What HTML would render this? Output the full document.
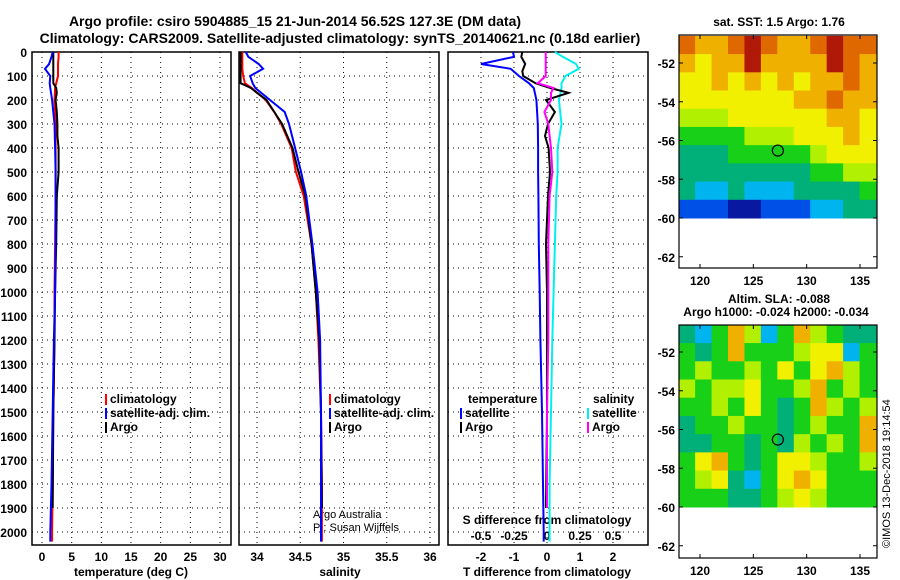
<!DOCTYPE html>
<html><head><meta charset="utf-8"><style>
html,body{margin:0;padding:0;background:#fff;}
svg{display:block;font-family:"Liberation Sans",sans-serif;font-weight:bold;}
</style></head><body>
<svg id="c" width="900" height="580" viewBox="0 0 900 580" xmlns="http://www.w3.org/2000/svg">
<text x="295" y="26" font-size="14" text-anchor="middle">Argo profile: csiro 5904885_15 21-Jun-2014 56.52S 127.3E (DM data)</text>
<text x="340" y="43" font-size="14" text-anchor="middle">Climatology: CARS2009. Satellite-adjusted climatology: synTS_20140621.nc (0.18d earlier)</text>
<text x="779" y="26" font-size="12" text-anchor="middle">sat. SST: 1.5 Argo: 1.76</text>
<text x="779" y="303" font-size="12" text-anchor="middle">Altim. SLA: -0.088</text>
<text x="776" y="316" font-size="12" text-anchor="middle">Argo h1000: -0.024 h2000: -0.034</text>
<text transform="translate(890,548) rotate(-90)" font-size="11" font-weight="normal">©IMOS 13-Dec-2018 19:14:54</text>
<g id="g"></g>
</svg>
<script>
// ---- data ----
const depths = [0,20,50,70,100,130,150,200,250,300,400,500,600,800,1000,1200,1500,1800,2000,2040];
const tempClim = [2.8,2.8,2.7,2.7,2.7,2.4,2.2,2.1,2.2,2.3,2.3,2.3,2.3,2.2,2.1,2.1,1.9,1.8,1.7,1.7];
const tempSat  = [1.8,1.6,1.2,0.5,1.4,1.3,1.4,1.7,1.9,2.1,2.2,2.3,2.3,2.3,2.2,2.0,1.8,1.6,1.4,1.4];
const argoDepths = [0,20,50,80,100,130,150,170,200,250,300,350,400,500,600,800,1000,1200,1500,1900];
const tempArgo = [1.9,1.9,1.9,1.9,1.9,1.9,2.4,2.5,2.3,2.5,2.6,2.6,2.8,2.8,2.5,2.4,2.2,2.1,1.9,1.8];
const salClim = [33.83,33.83,33.83,33.83,33.84,33.86,33.94,34.1,34.2,34.28,34.4,34.45,34.54,34.63,34.68,34.71,34.74,34.75,34.75,34.75];
const salSat  = [33.87,33.9,34.02,34.07,33.92,33.95,33.98,34.15,34.32,34.37,34.44,34.51,34.57,34.64,34.7,34.73,34.74,34.74,34.74,34.74];
const salArgo = [33.81,33.81,33.81,33.81,33.81,33.81,33.93,34.0,34.11,34.2,34.29,34.35,34.41,34.48,34.56,34.63,34.68,34.72,34.74,34.75];
const dTSat  = [-1.03,-1.0,-2.0,-1.1,-0.85,-0.55,-0.4,-0.32,-0.3,-0.28,-0.27,-0.27,-0.26,-0.25,-0.22,-0.2,-0.15,-0.12,-0.1,-0.1];
const dTArgo = [-0.75,-0.78,-0.66,-0.75,-0.72,-0.35,0.1,0.65,-0.03,0.24,0.03,-0.06,0.05,0.09,0.03,-0.03,0.0,0.0,0.0,-0.03];
const dSSat  = [0.06,0.12,0.22,0.24,0.14,0.11,0.11,0.09,0.10,0.11,0.08,0.08,0.07,0.06,0.05,0.04,0.03,0.02,0.02,0.02];
const dSArgo = [-0.01,-0.01,-0.01,-0.01,-0.01,-0.07,0.05,0.03,0.03,-0.02,0.01,0.02,0.03,0.04,0.02,0.01,0.01,0.01,0.0,0.0];
const depthTicks = [0,100,200,300,400,500,600,700,800,900,1000,1100,1200,1300,1400,1500,1600,1700,1800,1900,2000];
const tempTicks = [0,5,10,15,20,25,30];
const salTicks = [34,34.5,35,35.5,36];
const salTickLabels = ["34","34.5","35","35.5","36"];
const dTTicks = [-2,-1,0,1,2];
const dSTicks = [-0.5,-0.25,0,0.25,0.5];
const dSTickLabels = ["-0.5","-0.25","0","0.25","0.5"];
const latTicks = [-52,-54,-56,-58,-60,-62];
const lonTicks = [120,125,130,135];
const argoLon = 127.3, argoLat = -56.52;
// map grids: 12 lon cols x 10 lat rows (-50.6 .. -60), colour index 0..9
const sstGrid = [
[8,7,7,8,9,8,7,7,8,9,8,8],
[7,6,7,7,9,7,7,7,7,9,8,7],
[6,6,7,6,7,6,7,6,7,7,8,7],
[6,6,6,6,6,6,6,7,7,8,7,7],
[5,5,5,6,6,6,6,6,6,7,7,6],
[4,4,4,4,5,5,5,6,6,6,7,6],
[3,3,3,4,4,4,4,4,5,6,6,6],
[3,3,3,3,3,3,3,3,4,4,5,5],
[3,2,2,3,2,2,2,3,3,3,3,4],
[1,1,1,0,0,1,1,1,2,2,3,3]];
const slaGrid = [
[3,2,4,7,5,2,4,7,5,4,3,3],
[4,3,4,7,4,4,4,5,6,6,2,4],
[4,5,4,4,5,4,6,4,6,7,5,4],
[5,4,5,5,6,4,4,5,7,4,5,4],
[4,4,5,4,6,4,3,4,7,5,4,5],
[3,4,4,5,4,4,3,4,5,4,4,7],
[3,3,4,4,3,4,3,5,4,5,4,7],
[4,6,7,4,3,4,6,6,5,4,4,5],
[4,5,6,3,2,4,6,7,6,4,4,4],
[4,4,4,3,3,4,5,6,5,4,4,4]];
const palette = ["#0818a0","#0050e8","#00b4f0","#00b078","#18d018","#b0f000","#f0f000","#f0b000","#e06800","#b01808"];

// ---- drawing ----
const NS="http://www.w3.org/2000/svg";
const G=document.getElementById('g');
function el(tag,attrs,parent){const e=document.createElementNS(NS,tag);for(const k in attrs)e.setAttribute(k,attrs[k]);(parent||G).appendChild(e);return e;}
const top0=52, pxPer100=24;
const yD=d=>top0+d*pxPer100/100;
const bottom=545;
function lin(d0,d1,r0,r1){return v=>r0+(v-d0)*(r1-r0)/(d1-d0);}
const xT=lin(0,30,42,220), xS=lin(34,36,257,430), xdT=lin(0,1,547,580), xdS=lin(0,0.25,547,580);
const panels=[[32,231,'temperature-panel'],[239,439,'salinity-panel'],[448,648,'difference-panel']];
function dotted(x1,y1,x2,y2,name){const l=el('line',{x1,y1,x2,y2,stroke:'#000','stroke-width':1,'stroke-dasharray':'1 4'});}
panels.forEach(([l,r,n])=>{
  depthTicks.forEach(d=>{ if(d>0) dotted(l,yD(d),r,yD(d),'h-gridline'); });
});
tempTicks.forEach(t=>dotted(xT(t),top0,xT(t),bottom,'temp-gridline'));
salTicks.forEach(t=>dotted(xS(t),top0,xS(t),bottom,'sal-gridline'));
dTTicks.forEach(t=>dotted(xdT(t),top0,xdT(t),bottom,'dt-gridline'));
panels.forEach(([l,r,n])=>{const b=el('rect',{x:l,y:top0,width:r-l,height:bottom-top0,fill:'none',stroke:'#000','stroke-width':1.5});});
depthTicks.forEach(d=>{const t=el('text',{x:27,y:yD(d)+5,'font-size':12,'text-anchor':'end'});t.textContent=d;});
function label(x,y,s,name,size,anchor){const t=el('text',{x,y,'font-size':size||12,'text-anchor':anchor||'middle'});t.textContent=s;return t;}
tempTicks.forEach(v=>label(xT(v),561,v,'temp-tick-label'));
salTicks.forEach((v,i)=>label(xS(v),561,salTickLabels[i],'sal-tick-label'));
dTTicks.forEach(v=>label(xdT(v),561,v,'dt-tick-label'));
dSTicks.forEach((v,i)=>label(xdS(v),540,dSTickLabels[i],'ds-tick-label'));
label(547,524,'S difference from climatology','ds-axis-title');
label(131,576,'temperature (deg C)','temp-axis-title');
label(340,576,'salinity','sal-axis-title');
label(547,576,'T difference from climatology','dt-axis-title');
label(313,518,'Argo Australia','credit-argo-australia',11,'start').setAttribute('font-weight','normal');
label(313,531,'PI: Susan Wijffels','credit-pi',11,'start').setAttribute('font-weight','normal');

function profile(vals,deps,xf,color,name){
  const pts=[];for(let i=0;i<vals.length;i++){pts.push(xf(vals[i]).toFixed(1)+','+yD(deps[i]).toFixed(1));}
  const p=el('polyline',{points:pts.join(' '),fill:'none',stroke:color,'stroke-width':2});
  
}
profile(tempClim,depths,xT,'#f00','temp-climatology-line');
profile(tempArgo,argoDepths,xT,'#000','temp-argo-line');
profile(tempSat,depths,xT,'#00f','temp-satellite-line');
profile(salClim,depths,xS,'#f00','sal-climatology-line');
profile(salArgo,argoDepths,xS,'#000','sal-argo-line');
profile(salSat,depths,xS,'#00f','sal-satellite-line');
profile(dSSat,depths,xdS,'#00f0f0','ds-satellite-line');
profile(dTSat,depths,xdT,'#00f','dt-satellite-line');
profile(dTArgo,argoDepths,xdT,'#000','dt-argo-line');
profile(dSArgo,argoDepths,xdS,'#f0f','ds-argo-line');

function legend(x,y,color,text,name){
  el('rect',{x:x,y:y-9,width:2,height:11,fill:color});
  const t=label(x+5,y,text,name,12,'start');
}
legend(105,403,'#f00','climatology','legend-climatology');
legend(105,417,'#00f','satellite-adj. clim.','legend-satellite-adj');
legend(105,431,'#000','Argo','legend-argo');
legend(329,403,'#f00','climatology','legend-sal-climatology');
legend(329,417,'#00f','satellite-adj. clim.','legend-sal-satellite-adj');
legend(329,431,'#000','Argo','legend-sal-argo');
label(468,403,'temperature','legend-temperature-header',12,'start');
legend(460,417,'#00f','satellite','legend-dt-satellite');
legend(460,431,'#000','Argo','legend-dt-argo');
label(593,403,'salinity','legend-salinity-header',12,'start');
legend(587,417,'#00f0f0','satellite','legend-ds-satellite');
legend(587,431,'#f0f','Argo','legend-ds-argo');

// maps
function map(gridData,y0,y1,latAt52,name){
  const L=679,R=877;
  const xLon=lin(120,135,700,860);
  const yLat=lin(-52,-60,latAt52,latAt52+155);
  const latTop=-50.6, latBot=-60, lonL=118, lonR=136.5;
  const rows=gridData.length, cols=gridData[0].length;
  for(let r=0;r<rows;r++)for(let c=0;c<cols;c++){
    const la0=latTop+(latBot-latTop)*r/rows, la1=latTop+(latBot-latTop)*(r+1)/rows;
    const lo0=lonL+(lonR-lonL)*c/cols, lo1=lonL+(lonR-lonL)*(c+1)/cols;
    const ya=Math.max(y0,yLat(la0));
    const cell=el('rect',{x:xLon(lo0),y:ya,width:xLon(lo1)-xLon(lo0)+0.5,height:yLat(la1)-ya+0.5,fill:palette[gridData[r][c]]});
    
  }
  const b=el('rect',{x:L,y:y0,width:R-L,height:y1-y0,fill:'none',stroke:'#000','stroke-width':1.2});
  
  latTicks.forEach(v=>{const y=yLat(v);el('line',{x1:L,y1:y,x2:L+4,y2:y,stroke:'#000'});el('line',{x1:R-4,y1:y,x2:R,y2:y,stroke:'#000'});label(L-4,y+5,v,'lat-tick-label',12,'end');});
  lonTicks.forEach(v=>{const x=xLon(v);el('line',{x1:x,y1:y0,x2:x,y2:y0+4,stroke:'#000'});el('line',{x1:x,y1:y1-4,x2:x,y2:y1,stroke:'#000'});label(x,y1+17,v,'lon-tick-label');});
  const c=el('circle',{cx:xLon(argoLon),cy:yLat(argoLat),r:5.5,fill:'none',stroke:'#000','stroke-width':1.2});
  
}
map(sstGrid,35,268,63,'sst-map');
map(slaGrid,325,558,352,'sla-map');
</script>
</body></html>
